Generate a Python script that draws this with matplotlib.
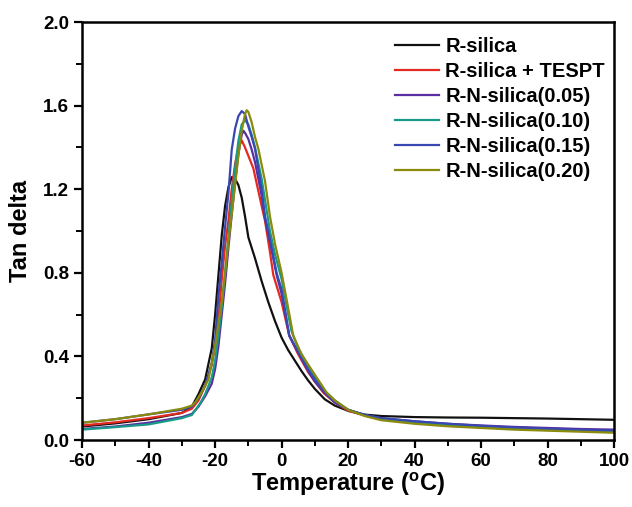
import matplotlib
matplotlib.use("Agg")
import matplotlib.pyplot as plt
from matplotlib.ticker import MultipleLocator

plt.rcParams['font.family'] = ['Liberation Sans', 'DejaVu Sans']
plt.rcParams['font.weight'] = 'bold'
plt.rcParams['axes.unicode_minus'] = False
plt.rcParams['mathtext.fontset'] = 'custom'
plt.rcParams['mathtext.bf'] = 'Liberation Sans:bold'
plt.rcParams['mathtext.rm'] = 'Liberation Sans:bold'

# data (temperature in degC, tan delta)
t_black = [-60, -50, -40, -30, -27, -25, -23, -21, -20, -19, -18, -17, -16, -15, -14, -13, -12, -11, -10,
           -8, -6, -4, -2, 0, 2, 4, 6, 8, 10, 13, 16, 20, 25, 30, 40, 50, 60, 70, 80, 90, 100]
y_black = [0.065, 0.08, 0.10, 0.13, 0.16, 0.22, 0.29, 0.44, 0.60, 0.79, 0.98, 1.12, 1.21, 1.258, 1.25, 1.22, 1.16, 1.07, 0.97,
           0.87, 0.76, 0.66, 0.57, 0.49, 0.43, 0.38, 0.33, 0.285, 0.245, 0.195, 0.165, 0.14, 0.122, 0.115, 0.11, 0.108, 0.107, 0.105, 0.103, 0.10, 0.097]

t_red = [-60, -50, -40, -30, -27, -25, -23, -21, -20, -19, -18, -17, -16, -15, -14, -13, -12, -11, -10, -8.5,
         -6, -5, -3.5, -2.5, 0, 2.3, 5, 8, 10, 12.6, 16, 20, 25, 30, 40, 50, 60, 70, 80, 90, 100]
y_red = [0.07, 0.085, 0.105, 0.13, 0.15, 0.19, 0.26, 0.36, 0.45, 0.58, 0.77, 0.93, 1.05, 1.20, 1.32, 1.40, 1.434, 1.40, 1.36, 1.30,
         1.12, 1.05, 0.90, 0.79, 0.66, 0.50, 0.41, 0.325, 0.28, 0.226, 0.18, 0.14, 0.118, 0.10, 0.085, 0.075, 0.066, 0.06, 0.055, 0.05, 0.046]

t_purple = [-60, -50, -40, -30, -27, -25, -23, -21, -20, -19, -18, -17, -16, -15, -14, -13, -12, -11.5, -11, -10, -9,
            -8, -6, -5, -3.5, -1.5, 0, 2.3, 5, 8, 10, 13, 16, 20, 25, 30, 40, 50, 60, 70, 80, 90, 100]
y_purple = [0.053, 0.065, 0.083, 0.11, 0.125, 0.16, 0.21, 0.27, 0.34, 0.45, 0.60, 0.75, 0.92, 1.08, 1.23, 1.37, 1.46, 1.48, 1.47, 1.44, 1.39,
            1.33, 1.17, 1.06, 0.95, 0.79, 0.70, 0.50, 0.42, 0.33, 0.28, 0.225, 0.18, 0.145, 0.12, 0.105, 0.09, 0.078, 0.07, 0.063, 0.058, 0.053, 0.05]

t_teal = [-60, -50, -40, -30, -27, -24.5, -23, -21, -20, -19, -18, -17, -16, -15, -14, -13, -12, -11, -10, -9,
          -8, -6, -3.5, -2, 0, 2, 3, 5, 8, 10, 13, 16, 20, 25, 30, 40, 50, 60, 70, 80, 90, 100]
y_teal = [0.05, 0.062, 0.075, 0.105, 0.12, 0.176, 0.22, 0.30, 0.38, 0.50, 0.64, 0.80, 0.97, 1.14, 1.30, 1.43, 1.51, 1.53, 1.51, 1.46,
          1.40, 1.25, 1.00, 0.89, 0.77, 0.60, 0.52, 0.44, 0.355, 0.30, 0.235, 0.19, 0.145, 0.12, 0.10, 0.085, 0.072, 0.064, 0.056, 0.05, 0.045, 0.04]

t_blue = [-60, -50, -40, -30, -27, -25, -23, -21, -20, -19, -18, -17, -16, -15, -14, -13, -12, -11, -10, -9,
          -8, -6, -5, -3.5, -1.5, 0, 2.3, 5, 8, 10, 13, 16, 20, 25, 30, 40, 50, 60, 70, 80, 90, 100]
y_blue = [0.083, 0.10, 0.123, 0.145, 0.16, 0.20, 0.26, 0.37, 0.48, 0.69, 0.85, 1.02, 1.18, 1.39, 1.49, 1.55, 1.574, 1.56, 1.50, 1.45,
          1.394, 1.20, 1.07, 0.96, 0.80, 0.72, 0.50, 0.42, 0.337, 0.29, 0.23, 0.185, 0.145, 0.12, 0.105, 0.09, 0.078, 0.068, 0.06, 0.054, 0.049, 0.045]

t_olive = [-60, -50, -40, -30, -27, -26, -24, -22, -20, -19, -18, -17, -16, -15, -14, -13, -12, -11, -10.5, -10, -9,
           -8, -7, -5, -3.5, -2, 0, 2, 3.5, 6, 9, 13.6, 16, 20, 25, 30, 40, 50, 60, 70, 80, 90, 100]
y_olive = [0.083, 0.10, 0.123, 0.15, 0.165, 0.18, 0.23, 0.29, 0.45, 0.56, 0.66, 0.80, 0.95, 1.08, 1.22, 1.36, 1.48, 1.56, 1.578, 1.57, 1.52,
           1.45, 1.394, 1.24, 1.07, 0.94, 0.80, 0.63, 0.50, 0.41, 0.337, 0.226, 0.19, 0.145, 0.115, 0.095, 0.078, 0.066, 0.058, 0.05, 0.045, 0.04, 0.035]

labels = ['R-silica', 'R-silica + TESPT', 'R-N-silica(0.05)', 'R-N-silica(0.10)',
          'R-N-silica(0.15)', 'R-N-silica(0.20)']
colors = ['#111111', '#e32a22', '#5a2da3', '#189a88', '#3848b0', '#8a8a0c']
series = [(t_black, y_black), (t_red, y_red), (t_purple, y_purple),
          (t_teal, y_teal), (t_blue, y_blue), (t_olive, y_olive)]

fig = plt.figure(figsize=(6.32, 5.07), dpi=100)
ax = fig.add_axes([0.130, 0.132, 0.8415, 0.8245])

for (t, y), c, lab in zip(series, colors, labels):
    ax.plot(t, y, color=c, lw=1.6, label=lab)

ax.set_xlim(-60, 100)
ax.set_ylim(0, 2.0)
ax.xaxis.set_major_locator(MultipleLocator(20))
ax.xaxis.set_minor_locator(MultipleLocator(10))
ax.yaxis.set_major_locator(MultipleLocator(0.4))
ax.yaxis.set_minor_locator(MultipleLocator(0.2))
ax.yaxis.set_major_formatter(plt.FormatStrFormatter('%.1f'))

for s in ax.spines.values():
    s.set_linewidth(1.8)
ax.tick_params(which='major', direction='out', length=6, width=1.6, labelsize=13.5)
ax.tick_params(which='minor', direction='out', length=4, width=1.4)

ax.set_xlabel(r'Temperature ($^{\mathbf{o}}$C)', fontsize=17, fontweight='bold', labelpad=0)
ax.set_ylabel('Tan delta', fontsize=17, fontweight='bold', labelpad=8)

ax.legend(loc='upper left', frameon=False, fontsize=14.5, handlelength=2.2,
          labelspacing=0.3, handletextpad=0.3, borderpad=0, borderaxespad=0,
          bbox_to_anchor=(0.588, 0.965))

fig.savefig('out.png', dpi=100)
